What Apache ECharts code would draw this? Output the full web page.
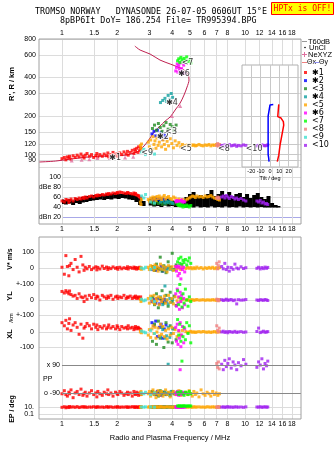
<!DOCTYPE html>
<html>
<head>
<meta charset="utf-8">
<script src="https://cdn.jsdelivr.net/npm/echarts@6/dist/echarts.min.js"></script>
<style>html,body{margin:0;padding:0;background:#fff}#chart{width:335px;height:451px}</style>
</head>
<body>
<div id="chart"></div>
<script>
// axis ticks
const freqTicks = [1, 1.5, 2, 3, 4, 5, 6, 7, 8, 10, 12, 14, 16, 18];
const kmTicks = [80, 90, 100, 120, 150, 200, 300, 400, 600, 800];
const dbTicks = [20, 40, 60, 80, 100];
const tiltTicks = [-20, -10, 0, 10, 20];

const classNames = ['✱1', '✱2', '<3', '✱4', '<5', '✱6', '<7', '<8', '<9', '<10'];
const classColors = ['#ff0000', '#0000ff', '#228b22', '#10a0a0', '#ffa500', '#ff00ff', '#00ff00', '#f08080', '#40e0d0', '#a020f0'];

// echo rows: [MHz, km, dB, V* m/s, YL km, XL km, PP deg, EP deg]
const echo1 = [
  [1.00, 93, 52, 5, 55, 60, -95, 8], [1.03, 95, 50, -40, 45, 40, -75, 12], [1.05, 91, 55, 80, 60, 75, -100, 6],
  [1.07, 96, 54, 10, 50, 20, -110, 10], [1.09, 94, 49, -50, 40, 55, -85, 7], [1.10, 97, 53, 15, 58, 85, -95, 14],
  [1.12, 92, 56, 30, 35, 10, -70, 9], [1.15, 98, 52, -10, 25, 45, -120, 11], [1.18, 95, 57, 55, 30, 60, -90, 8],
  [1.21, 99, 55, 5, 10, 30, -80, 13], [1.24, 96, 58, -25, 40, -15, -100, 7], [1.27, 101, 56, 75, 20, 50, -65, 10],
  [1.30, 97, 59, 20, 15, -40, -105, 12], [1.32, 94, 57, -15, -10, 25, -95, 9], [1.34, 99, 60, 5, 25, 35, -85, 11],
  [1.37, 102, 58, -5, 5, 55, -110, 8], [1.41, 97, 61, 10, 30, 40, -90, 10], [1.45, 100, 62, -10, 15, 20, -75, 9],
  [1.49, 95, 60, 0, 35, 50, -100, 12], [1.53, 98, 63, 8, 10, 30, -90, 8], [1.55, 102, 62, -12, 25, 45, -115, 10],
  [1.57, 96, 64, 4, 20, 15, -80, 11], [1.61, 100, 63, -6, 0, 35, -95, 9], [1.66, 97, 65, 12, 30, 25, -105, 10],
  [1.70, 101, 64, -3, 20, 40, -85, 8], [1.75, 98, 66, 6, 10, 20, -95, 12], [1.78, 103, 65, -9, 25, 30, -70, 9],
  [1.80, 96, 67, 2, 15, 45, -100, 10], [1.85, 100, 66, -4, 30, 25, -90, 11], [1.90, 104, 68, 7, 5, 35, -110, 8],
  [1.96, 99, 67, -2, 20, 20, -85, 10], [2.00, 102, 69, 3, 25, 40, -95, 9], [2.02, 97, 68, -8, 10, 30, -100, 12],
  [2.07, 103, 70, 5, 20, 15, -80, 8], [2.12, 100, 69, -5, 15, 35, -90, 10], [2.18, 105, 68, 2, 30, 25, -105, 9],
  [2.24, 101, 67, -3, 10, 30, -95, 11], [2.28, 106, 69, 8, 20, 20, -85, 8], [2.30, 99, 68, -6, 15, 40, -100, 10],
  [2.36, 104, 67, 4, 25, 25, -90, 9], [2.42, 108, 66, -2, 10, 30, -110, 12], [2.47, 102, 68, 6, 20, 15, -80, 10],
  [2.50, 110, 65, -4, 15, 25, -95, 8], [2.52, 106, 67, 3, 25, 35, -100, 11], [2.56, 112, 64, -7, 10, 20, -85, 9],
  [2.60, 104, 63, 2, 20, 30, -95, 10], [2.62, 115, 62, -3, 15, 25, -105, 8], [2.66, 108, 60, 5, 10, 20, -90, 12],
  [2.69, 113, 58, -2, 20, 15, -100, 9]
];
const echo2 = [
  [3.10, 145, 56, -10, -10, 60, -85, 10], [3.18, 152, 54, 5, 5, 40, -95, 9], [3.25, 140, 58, -15, -20, 70, -100, 12],
  [3.32, 155, 55, 0, 10, -30, -80, 8], [3.40, 138, 57, -8, -25, 30, -90, 11], [3.48, 148, 53, 10, 0, 50, -105, 10],
  [3.55, 132, 56, -20, -15, -40, -95, 9], [3.62, 142, 55, -5, 5, 20, -85, 12], [3.70, 136, 54, 0, -10, 45, -100, 10]
];
const echo3 = [
  [3.12, 160, 48, 10, 20, -60, -80, 9], [3.20, 170, 46, -15, -30, 50, -100, 11], [3.28, 155, 50, 25, 40, -80, -90, 8],
  [3.36, 175, 47, -5, -50, 70, -110, 12], [3.44, 163, 49, 70, 10, -40, -75, 10], [3.52, 152, 45, -20, 60, 30, -95, 9],
  [3.60, 168, 48, 15, -20, -100, -85, 11], [3.70, 178, 46, -30, 30, 60, -100, 8], [3.80, 158, 50, 40, -40, -65, -90, 10],
  [3.90, 172, 47, 5, 50, 40, -105, 12], [4.00, 165, 49, 95, -10, -70, -80, 9], [4.10, 155, 46, -10, 25, 20, -95, 10],
  [4.20, 170, 48, 20, -35, -50, -90, 11]
];
const echo4 = [
  [3.45, 255, 50, -5, 20, -30, -90, 10], [3.55, 265, 52, -10, -30, 15, -100, 9], [3.65, 275, 48, 5, 90, -40, -85, 12],
  [3.72, 260, 51, -15, 0, -25, -95, 8], [3.80, 290, 49, 0, -25, 30, 95, 10], [3.88, 270, 53, -8, 10, -35, -105, 11],
  [3.95, 300, 50, 3, -15, -10, -80, 9], [4.02, 280, 47, -12, 5, 20, -90, 10]
];
const echo5 = [
  [2.68, 118, 50, -5, 5, 0, -90, 10], [2.70, 112, 45, 3, -10, 10, -80, 8], [2.72, 121, 55, -8, 0, -5, -100, 12],
  [2.96, 125, 55, 5, 10, -20, -95, 9], [3.00, 115, 52, -10, -20, 15, -80, 12], [3.05, 130, 58, 15, 25, -35, -110, 8],
  [3.10, 110, 54, -5, 0, 20, -90, 10], [3.14, 138, 60, 8, -15, 40, -70, 14], [3.18, 120, 56, -15, 30, -10, -100, 7],
  [3.22, 128, 59, 20, -25, 30, -85, 11], [3.26, 112, 53, -3, 10, -40, -120, 9], [3.30, 135, 61, 10, -5, 0, -95, 12],
  [3.35, 118, 57, -20, 20, 25, -75, 8], [3.40, 125, 62, 0, -30, -25, -105, 10], [3.45, 142, 58, 25, 15, 50, -90, 13],
  [3.50, 115, 55, -8, -10, -15, -80, 9], [3.56, 130, 60, 12, 5, 35, -110, 11], [3.62, 120, 63, -12, 25, -30, -95, 8],
  [3.68, 110, 56, 5, -20, 10, -70, 10], [3.75, 127, 59, -25, 0, -45, -100, 12], [3.82, 117, 61, 15, 30, 20, -85, 9],
  [3.90, 133, 57, -5, -15, -20, -115, 11], [3.98, 122, 55, 8, 10, 30, -90, 8], [4.06, 113, 60, -15, -25, -10, -80, 10],
  [4.15, 128, 58, 10, 20, 15, -100, 12], [4.25, 118, 54, -5, -5, -30, -95, 9], [4.35, 124, 56, 3, 15, 5, -75, 11],
  [4.45, 115, 53, -10, -10, -20, -105, 8], [4.55, 120, 55, 5, 5, 10, -90, 10],
  [4.75, 118, 54, -3, 0, 2, -85, 10], [4.85, 119, 56, 5, 2, -3, -100, 9], [4.95, 117, 58, -2, -3, 0, -75, 11],
  [5.05, 120, 60, 3, 0, 4, -95, 10], [5.15, 118, 62, -5, 2, -2, -110, 8], [5.25, 119, 61, 2, -2, 1, -80, 12],
  [5.35, 117, 59, -4, 0, -3, -100, 9], [5.45, 118, 62, 6, 3, 0, -90, 10], [5.60, 120, 60, -2, -1, 2, -115, 11],
  [5.75, 118, 61, 3, 0, -1, -70, 9], [5.90, 117, 59, -6, 2, 3, -95, 10], [6.05, 119, 62, 2, -2, 0, -105, 8],
  [6.20, 118, 60, -3, 1, -2, -85, 12], [6.35, 120, 61, 4, 0, 1, -95, 10], [6.50, 117, 63, -2, -1, -3, -110, 9],
  [6.65, 119, 60, 5, 2, 0, -80, 11], [6.80, 118, 58, -4, 0, 2, -100, 10], [6.95, 120, 57, 2, -2, -1, -90, 8],
  [7.10, 118, 55, -3, 1, 0, -105, 11], [7.25, 119, 54, 3, 0, 2, -95, 10]
];
const echo6 = [
  [4.18, 450, 52, 10, 40, 30, -90, 10], [4.22, 480, 50, -20, -40, -60, -100, 9], [4.26, 510, 53, 5, 70, 50, -80, 12],
  [4.30, 440, 49, -50, -20, -80, -95, 8], [4.34, 495, 51, 15, 20, 10, -105, 10], [4.38, 465, 48, -35, -60, -40, -85, 11],
  [4.42, 520, 52, 0, 50, 60, 60, 9], [4.46, 455, 50, -70, -10, -95, -90, 10], [4.50, 470, 54, 20, 30, -20, -100, 12],
  [4.55, 435, 49, -10, -50, 35, -85, 8], [4.62, 500, 51, 5, 10, -70, -95, 10], [4.68, 430, 50, -25, -30, 20, -90, 9]
];
const echo7 = [
  [4.28, 540, 45, 40, 60, 80, -85, 20], [4.34, 560, 43, 60, -30, -20, -100, 18], [4.40, 525, 46, 30, 100, 50, -90, 22],
  [4.46, 575, 42, 70, 10, -60, -80, 16], [4.52, 550, 44, 25, -45, 110, 115, 20], [4.58, 530, 40, 50, 40, -30, -95, 18],
  [4.64, 565, 43, 35, -20, 30, -105, 22], [4.72, 545, 41, 55, 70, -50, -85, 19], [4.80, 580, 44, 20, 0, 60, -90, 17],
  [4.88, 535, 42, 45, -40, -10, -100, 21], [4.96, 555, 40, 65, 20, 40, -80, 18], [5.05, 520, 43, 30, -10, -70, -95, 20]
];
const echo8 = [
  [7.00, 118, 58, 30, 5, 40, 100, 9], [7.08, 122, 60, -5, 0, 10, 75, 11], [7.15, 116, 57, 15, -5, 0, 110, 8],
  [7.22, 120, 59, 40, 3, 25, 65, 10]
];
const echo9 = [
  [2.72, 105, 62, 0, 5, 5, -90, 10], [2.80, 110, 58, -5, -5, 0, -95, 9], [2.86, 100, 65, 5, 0, -5, -85, 11],
  [3.05, 103, 50, -8, 10, 10, -100, 10], [3.20, 101, 48, 3, -10, -10, -90, 9]
];
const echo10 = [
  [7.45, 118, 60, 10, 2, 0, 95, 9], [7.60, 116, 62, -5, -3, 5, 60, 11], [7.75, 119, 58, 30, 0, -3, 120, 8],
  [7.90, 117, 63, -10, 5, 2, 80, 10], [8.05, 118, 60, 5, -2, -5, 100, 12], [8.20, 120, 57, -20, 0, 3, 130, 9],
  [8.40, 117, 61, 3, 3, 0, 70, 10], [8.60, 118, 59, -8, -4, -2, 110, 8], [8.80, 119, 56, 25, 0, 4, 90, 11],
  [9.00, 116, 58, 0, -25, -3, 60, 10], [9.20, 118, 55, -5, 2, 0, 105, 9], [9.50, 117, 57, 8, -1, 2, 85, 10],
  [9.80, 119, 54, -3, 0, -2, 125, 8], [10.10, 118, 52, 2, 3, 0, 95, 11], [11.60, 117, 52, -2, 0, 3, 75, 10],
  [11.85, 118, 50, 5, -3, 25, 110, 9], [12.10, 116, 53, -6, 2, -4, 90, 12], [12.35, 119, 48, 3, 0, 0, 130, 8],
  [12.60, 118, 50, -4, -2, 5, 65, 10], [12.85, 117, 46, 6, 3, -2, 100, 11], [13.10, 118, 47, -2, 0, 0, 85, 9],
  [13.30, 119, 45, 4, -3, 2, 115, 10]
];
const echoes = [echo1, echo2, echo3, echo4, echo5, echo6, echo7, echo8, echo9, echo10];

// unclassified amplitude: [MHz, low dB, high dB]
const unclAmp = [
  [1.00, 46, 55], [1.05, 45, 54], [1.10, 47, 56], [1.15, 44, 53], [1.20, 48, 58], [1.25, 46, 55], [1.30, 49, 60],
  [1.36, 50, 62], [1.42, 52, 61], [1.48, 53, 64], [1.55, 54, 63], [1.62, 55, 66], [1.70, 54, 65], [1.78, 56, 67],
  [1.86, 55, 66], [1.95, 57, 68], [2.04, 56, 67], [2.13, 58, 66], [2.23, 57, 68], [2.33, 55, 66], [2.44, 54, 65],
  [2.55, 50, 62], [2.67, 44, 58], [2.79, 42, 52], [3.05, 43, 56], [3.19, 41, 60], [3.34, 42, 55], [3.49, 40, 58],
  [3.65, 43, 54], [3.82, 41, 57], [4.00, 42, 53], [4.18, 40, 52], [4.37, 41, 55], [4.57, 40, 50], [4.78, 39, 60],
  [5.00, 40, 66], [5.23, 39, 70], [5.47, 41, 62], [5.72, 39, 64], [5.98, 40, 60], [6.26, 39, 66], [6.55, 41, 74],
  [6.85, 39, 62], [7.16, 40, 66], [7.49, 39, 72], [7.83, 41, 64], [8.19, 39, 70], [8.57, 40, 62], [8.96, 39, 66],
  [9.37, 41, 68], [9.80, 39, 60], [10.25, 40, 66], [10.72, 39, 58], [11.21, 40, 64], [11.73, 39, 68], [12.27, 40, 60],
  [12.83, 39, 56], [13.42, 39, 62], [14.04, 39, 48], [14.68, 39, 44], [15.20, 39, 42]
];

// NeXYZ true-height profile [MHz, km] and its marked points
const neProfile = [
  [0.75, 87.5], [0.92, 89], [1.1, 92], [1.42, 96], [1.83, 97.5], [2.21, 99], [2.5, 103], [2.67, 109], [2.84, 119],
  [3.03, 135], [3.22, 153], [3.43, 167], [3.66, 183], [3.9, 197], [4.15, 223], [4.42, 253], [4.64, 292], [4.82, 337],
  [4.94, 383], [4.88, 426], [4.64, 458], [4.3, 483], [3.9, 510], [3.43, 548], [3.03, 610], [2.67, 656], [2.5, 705]
];
const nePoints = [[1.13, 90], [1.28, 91], [1.41, 92], [1.56, 94], [1.83, 94], [2.21, 95], [2.45, 96], [3.99, 200], [4.42, 240]];

// tilt profiles [deg, km]
const thetaX = [[9.4, 247], [8.3, 198], [11.8, 193], [14.3, 181], [14.7, 170], [12.9, 144], [10.8, 119], [9.4, 99], [7.8, 88]];
const thetaY = [[3.5, 246], [0, 244], [-2, 238], [-2, 200], [-2, 150], [-2, 120], [-2, 100], [-1.5, 95], [-1, 88]];

// echo group labels [MHz, km, text]
const groupLabels = [
  [1.95, 95, '✱1'], [2.92, 103, '<9'], [3.56, 137, '✱2'], [3.95, 150, '<3'], [3.99, 253, '✱4'],
  [4.75, 111, '<5'], [4.64, 426, '✱6'], [4.85, 520, '<7'], [7.67, 110, '<8'], [11.2, 111, '<10']
];

const lg = Math.log10;
const xMin = lg(0.749), xMax = lg(20.2);
const num = v => String(+(Math.pow(10, v)).toPrecision(3));
const font = 'Liberation Sans';
const gridLine = '#dcdcdc';
const frameColor = '#a0a0a0';

function freqAxis(gridIndex, labelPos, min) {
  const cv = freqTicks.map(lg);
  return {
    type: 'value', gridIndex: gridIndex, min: min === undefined ? xMin : min, max: xMax,
    position: labelPos || 'bottom',
    axisLine: {show: false},
    axisTick: {show: false, customValues: cv},
    axisLabel: {show: !!labelPos, customValues: cv, formatter: num, fontSize: 7, fontFamily: font, color: '#000', margin: 2},
    splitLine: {show: true, customValues: cv, lineStyle: {color: gridLine, width: 1}}
  };
}
function valAxis(gridIndex, min, max, ticks, fmt, margin, lineColor) {
  return {
    type: 'value', gridIndex: gridIndex, min: min, max: max,
    axisLine: {show: false},
    axisTick: {show: false, customValues: ticks},
    axisLabel: {show: !!fmt, customValues: ticks, formatter: fmt, fontSize: 7, fontFamily: font, color: '#000', margin: margin},
    splitLine: {show: ticks.length > 0, customValues: ticks, lineStyle: {color: lineColor || gridLine, width: 1}}
  };
}

const chart = echarts.init(document.getElementById('chart'));

const grids = [
  {left: 39, top: 39, width: 262, height: 131},
  {left: 242, top: 65, width: 56, height: 102, show: true, backgroundColor: '#fff', borderColor: '#b0b0b0', borderWidth: 1, z: 1},
  {left: 62, top: 170, width: 239, height: 54},
  {left: 39, top: 237, width: 262, height: 47},
  {left: 39, top: 284, width: 262, height: 32},
  {left: 39, top: 316, width: 262, height: 40},
  {left: 39, top: 356, width: 262, height: 44},
  {left: 39, top: 400, width: 262, height: 19},
  {left: 39, top: 39, width: 262, height: 185, show: true, borderColor: frameColor, borderWidth: 1, backgroundColor: 'transparent', z: 6},
  {left: 39, top: 237, width: 262, height: 182, show: true, borderColor: frameColor, borderWidth: 1, backgroundColor: 'transparent', z: 6}
];

const xAxes = [
  freqAxis(0, 'top'),
  {
    type: 'value', gridIndex: 1, min: -30, max: 30, z: 1,
    axisLine: {show: false}, axisTick: {show: false, customValues: tiltTicks},
    axisLabel: {customValues: tiltTicks, fontSize: 5.5, fontFamily: font, color: '#000', margin: 1},
    splitLine: {show: true, customValues: tiltTicks, lineStyle: {color: '#c8c8c8'}},
    name: 'Tilt / deg', nameLocation: 'middle', nameGap: 8, nameTextStyle: {fontSize: 5.5, fontFamily: font, color: '#000'}
  },
  freqAxis(2, 'bottom', 0),
  freqAxis(3), freqAxis(4), freqAxis(5), freqAxis(6),
  freqAxis(7, 'bottom'),
  {type: 'value', gridIndex: 8, show: false},
  {type: 'value', gridIndex: 9, show: false}
];

const kmCv = kmTicks.map(lg);
const yAxes = [
  valAxis(0, lg(75.8), lg(800), kmCv, num, 3),
  Object.assign(valAxis(1, lg(80), lg(501), kmCv, null, 0, '#c8c8c8'), {z: 1}),
  valAxis(2, 6, 114, dbTicks, v => ({20: 'dBn 20', 80: 'dBe 80'})[v] || String(v), 1),
  valAxis(3, -103, 200, [100, 0], v => String(v), 5),
  valAxis(4, -103, 103, [100, 0, -100], v => (v === 0 ? '0' : '+-100'), 5),
  valAxis(5, -155, 103, [0, -100], v => String(v), 5),
  valAxis(6, -135, 148, [], null, 5),
  valAxis(7, -2.43, 3, [1, -1], v => (v > 0 ? '10.' : '0.1'), 5),
  {type: 'value', gridIndex: 8, show: false},
  {type: 'value', gridIndex: 9, show: false}
];
yAxes[2].splitLine.lineStyle.color = ['#a8a8e8', gridLine, gridLine, gridLine, gridLine];

// panel columns of an echo row: [row column, axis index, log transform]
const panels = [[1, 0, true], [2, 2, false], [3, 3, false], [4, 4, false], [5, 5, false], [6, 6, false], [7, 7, true]];

const series = [];
series.push({
  type: 'custom', name: 'UnCl', xAxisIndex: 2, yAxisIndex: 2, z: 1, silent: true, clip: true,
  data: unclAmp.map(d => [lg(d[0]), d[1], d[2]]),
  renderItem: function (params, api) {
    const lo = api.coord([api.value(0), api.value(1)]);
    const hi = api.coord([api.value(0), api.value(2)]);
    return {type: 'rect', shape: {x: lo[0] - 2, y: hi[1], width: 4, height: lo[1] - hi[1]}, style: {fill: '#000'}};
  }
});
series.push({
  type: 'line', name: 'NeXYZ', xAxisIndex: 0, yAxisIndex: 0, z: 2, symbol: 'none', smooth: 0.3,
  lineStyle: {color: '#c02050', width: 1}, data: neProfile.map(d => [lg(d[0]), lg(d[1])])
});
series.push({
  type: 'scatter', name: 'NeXYZ pts', xAxisIndex: 0, yAxisIndex: 0, z: 4, symbol: 'triangle', symbolSize: 4,
  itemStyle: {color: '#e070a0'}, data: nePoints.map(d => [lg(d[0]), lg(d[1])])
});
echoes.forEach(function (rows, i) {
  panels.forEach(function (p) {
    series.push({
      type: 'scatter', name: classNames[i], xAxisIndex: p[1], yAxisIndex: p[1], z: 3,
      symbol: 'rect', symbolSize: 3, itemStyle: {color: classColors[i]},
      data: rows.map(r => [lg(r[0]), p[2] ? lg(r[p[0]]) : r[p[0]]])
    });
  });
});
series.push({
  type: 'line', name: 'Θx', xAxisIndex: 1, yAxisIndex: 1, z: 4, symbol: 'none',
  lineStyle: {color: '#ff0000', width: 1.5}, data: thetaX.map(d => [d[0], lg(d[1])])
});
series.push({
  type: 'line', name: 'Θy', xAxisIndex: 1, yAxisIndex: 1, z: 4, symbol: 'none',
  lineStyle: {color: '#0000ff', width: 1.5}, data: thetaY.map(d => [d[0], lg(d[1])])
});
series.push({
  type: 'scatter', name: 'labels', xAxisIndex: 0, yAxisIndex: 0, z: 5, symbolSize: 0,
  data: groupLabels.map(d => [lg(d[0]), lg(d[1]), d[2]]),
  label: {show: true, position: 'inside', formatter: p => p.data[2], fontSize: 8, fontFamily: 'DejaVu Sans', color: '#000', textBorderColor: '#fff', textBorderWidth: 2}
});
series.push({
  type: 'line', name: 'PP ref', xAxisIndex: 6, yAxisIndex: 6, data: [], symbol: 'none',
  markLine: {
    silent: true, symbol: ['none', 'none'], animation: false,
    lineStyle: {color: '#888', width: 1, type: 'solid'},
    label: {show: true, position: 'start', formatter: '{b}', distance: 2, fontSize: 7, fontFamily: font, color: '#000'},
    data: [
      [{name: 'x 90', coord: [lg(1), 90]}, {coord: [xMax, 90]}],
      [{name: 'o -90', coord: [lg(1), -90]}, {coord: [xMax, -90]}]
    ]
  }
});

const txt = (x, y, text, size, extra) => Object.assign({
  type: 'text', x: x, y: y,
  style: Object.assign({text: text, fontSize: size, fontFamily: font, fill: '#000', verticalAlign: 'middle'}, extra || {})
}, {});
const vtxt = (x, y, text, size, weight) => ({
  type: 'text', x: x, y: y, rotation: Math.PI / 2,
  style: {text: text, fontSize: size, fontFamily: font, fontWeight: weight || 'bold', fill: '#000', align: 'center', verticalAlign: 'middle'}
});

const graphics = [
  txt(35, 12, 'TROMSO NORWAY   DYNASONDE 26-07-05 0606UT 15°E', 8.4, {fontFamily: 'DejaVu Sans Mono'}),
  txt(60, 21, '8pBP6It DoY= 186.254 File= TR995394.BPG', 8.4, {fontFamily: 'DejaVu Sans Mono'}),
  {type: 'rect', shape: {x: 271.5, y: 2.5, width: 62, height: 12}, style: {fill: '#ffff00', stroke: '#ff0000', lineWidth: 1}},
  txt(302.5, 9, 'HPTx is OFF!', 8, {fontFamily: 'DejaVu Sans Mono', fill: '#ff0000', align: 'center'}),
  vtxt(12, 84, "R', R / km", 7.5),
  vtxt(10, 259, 'V* m/s', 7),
  vtxt(10, 296, 'YL', 7.5),
  vtxt(11, 318, '/km', 6, 'normal'),
  vtxt(10, 334, 'XL', 7.5),
  vtxt(12, 409, 'EP / deg', 7),
  txt(43, 379, 'PP', 7),
  txt(170, 438, 'Radio and Plasma Frequency / MHz', 7.5, {align: 'center'}),
  {type: 'line', shape: {x1: 302, y1: 41.5, x2: 307, y2: 41.5}, style: {stroke: '#999', lineWidth: 1}},
  txt(308, 41.5, 'T60dB', 7.5),
  {type: 'circle', shape: {cx: 305, cy: 47.5, r: 0.8}, style: {fill: '#000'}},
  txt(309, 47.5, 'UnCl', 7.5),
  {type: 'line', shape: {x1: 302, y1: 54.5, x2: 307, y2: 54.5}, style: {stroke: '#e070a0', lineWidth: 1}},
  {type: 'line', shape: {x1: 304.5, y1: 52, x2: 304.5, y2: 57}, style: {stroke: '#e070a0', lineWidth: 1}},
  txt(308, 54.5, 'NeXYZ', 7.5),
  {type: 'line', shape: {x1: 302, y1: 62.5, x2: 307, y2: 62.5}, style: {stroke: '#f08080', lineWidth: 1}},
  txt(307, 62.5, 'Θx', 7),
  {type: 'line', shape: {x1: 314, y1: 62.5, x2: 319, y2: 62.5}, style: {stroke: '#9090f0', lineWidth: 1}},
  txt(319, 62.5, 'Θy', 7)
];

chart.setOption({
  animation: false,
  backgroundColor: '#fff',
  grid: grids,
  xAxis: xAxes,
  yAxis: yAxes,
  legend: {
    data: classNames, orient: 'vertical', left: 304, top: 68.5, padding: 0,
    itemWidth: 3, itemHeight: 3, itemGap: 0.1, icon: 'rect', selectedMode: false,
    textStyle: {fontSize: 8, lineHeight: 8, fontFamily: 'DejaVu Sans', color: '#000'}
  },
  graphic: graphics,
  series: series
});
</script>
</body>
</html>
